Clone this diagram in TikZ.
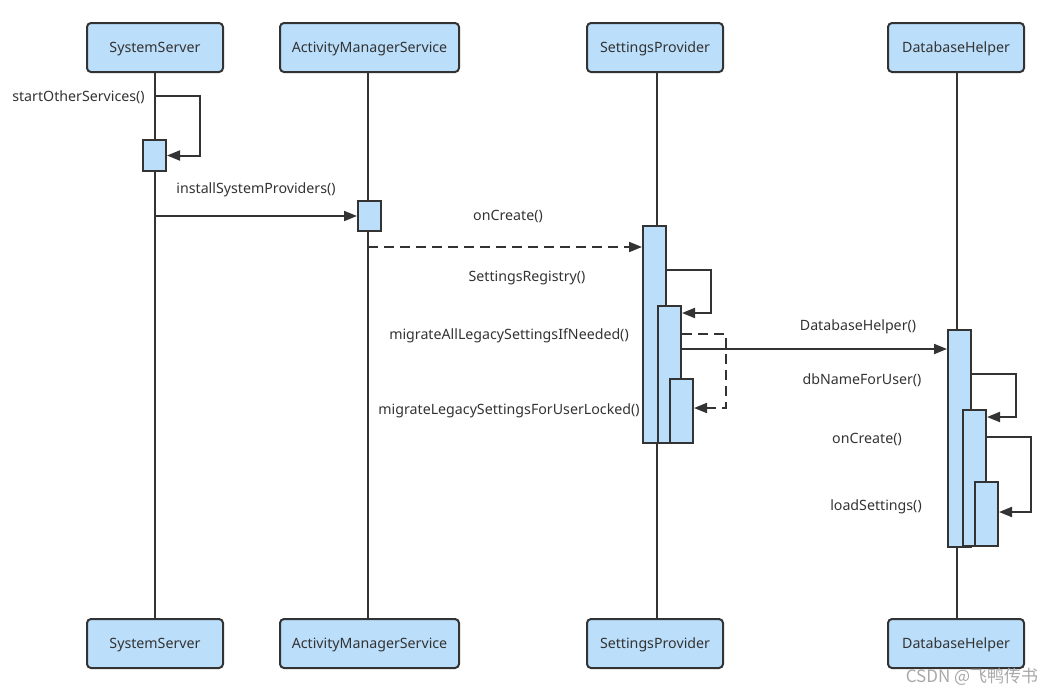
\documentclass[tikz,border=0pt]{standalone}
\usepackage{fontspec}
\setmainfont{Noto Sans}
\newfontfamily\cjkfont{Noto Sans CJK SC}
\usetikzlibrary{arrows.meta}
\definecolor{boxfill}{HTML}{BBDEFA}
\definecolor{ink}{HTML}{333333}
\definecolor{wm}{HTML}{A8A8A8}
\begin{document}
\begin{tikzpicture}[x=1pt,y=-1pt,
  font=\fontsize{14.2}{16}\selectfont,
  obj/.style={draw=ink, fill=boxfill, line width=2pt, rounded corners=4pt,
    minimum width=136pt, minimum height=49pt, text=ink, inner sep=0pt, text depth=0pt},
  act/.style={draw=ink, fill=boxfill, line width=2pt, minimum width=23pt, inner sep=0pt},
  life/.style={draw=ink, line width=2pt},
  msg/.style={draw=ink, line width=2pt, -{Triangle[length=13pt,width=10pt]}},
  ret/.style={msg, dash pattern=on 10pt off 6pt},
  lbl/.style={text=ink, inner sep=0pt}]
\useasboundingbox (0,0) rectangle (1054,696);
% top / bottom objects
\node[obj] (ssT) at (155,47.5) {SystemServer};
\node[obj, minimum width=179pt] (amT) at (369.5,47.5) {ActivityManagerService};
\node[obj] (spT) at (655,47.5) {SettingsProvider};
\node[obj] (dhT) at (956,47.5) {DatabaseHelper};
\node[obj] (ssB) at (155,643.5) {SystemServer};
\node[obj, minimum width=179pt] (amB) at (369.5,643.5) {ActivityManagerService};
\node[obj] (spB) at (655,643.5) {SettingsProvider};
\node[obj] (dhB) at (956,643.5) {DatabaseHelper};
% lifelines
\draw[life] (ssT.south) -- (ssB.north);
\draw[life] (amT.south -| 368,0) -- (amB.north -| 368,0);
\draw[life] (spT.south -| 657,0) -- (spB.north -| 657,0);
\draw[life] (dhT.south -| 957,0) -- (dhB.north -| 957,0);
% activations
\node[act, minimum height=31pt] (sa1) at (154.5,155.5) {};
\node[act, minimum height=30pt] (ama) at (369.5,216) {};
\node[act, minimum height=217pt] (spa1) at (654.5,334.5) {};
\node[act, minimum height=137pt] (spa2) at (669.5,374.5) {};
\node[act, minimum height=64pt] (spa3) at (681.5,411) {};
\node[act, minimum height=217pt] (dha1) at (959.5,438.5) {};
\node[act, minimum height=136pt] (dha2) at (974.5,478) {};
\node[act, minimum height=64pt] (dha3) at (986.5,514) {};
% messages
\coordinate (c1) at (155,96);
\draw[msg] (c1) -- (200,96) |- (sa1.east);
\draw[msg] (ssT.south |- ama.west) -- (ama.west);
\coordinate (c2) at (368,247);
\draw[ret] (c2) -- (spa1.west |- c2);
\draw[msg] (spa1.east |- 0,270) -- (711,270) |- (spa2.east |- 0,313);
\draw[ret] (spa2.east |- 0,334) -- (726,334) |- (spa3.east |- 0,408);
\draw[msg] (spa2.east |- 0,349) -- (dha1.west |- 0,349);
\draw[msg] (dha1.east |- 0,374) -- (1016,374) |- (dha2.east |- 0,417);
\draw[msg] (dha2.east |- 0,437) -- (1031,437) |- (dha3.east |- 0,512);
% labels
\node[lbl] (l1) at (78.5,97) {startOtherServices()};
\node[lbl] (l2) at (256,190) {installSystemProviders()};
\node[lbl] (l3) at (508,216) {onCreate()};
\node[lbl] (l4) at (527,278) {SettingsRegistry()};
\node[lbl] (l5) at (509,336) {migrateAllLegacySettingsIfNeeded()};
\node[lbl] (l6) at (509,411) {migrateLegacySettingsForUserLocked()};
\node[lbl] (l7) at (858,327) {DatabaseHelper()};
\node[lbl] (l8) at (862,380) {dbNameForUser()};
\node[lbl] (l9) at (867,439) {onCreate()};
\node[lbl] (l10) at (876,507) {loadSettings()};
\node[text=wm, inner sep=0pt, font=\cjkfont\fontsize{17}{19}\selectfont] (wmk) at (972,677) {CSDN @飞鸭传书};
\end{tikzpicture}
\end{document}
